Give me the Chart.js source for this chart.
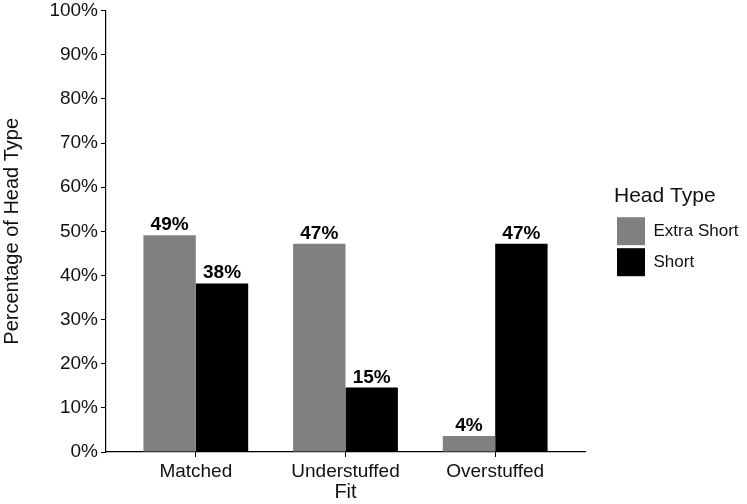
<!DOCTYPE html>
<html>
<head>
<meta charset="utf-8">
<script src="https://cdn.jsdelivr.net/npm/chart.js@4.4.1/dist/chart.umd.min.js"></script>
<style>
  html, body { margin: 0; padding: 0; background: #fff; }
  #wrap { width: 747px; height: 504px; }
</style>
</head>
<body>
<div id="wrap"><canvas id="grafico"></canvas></div>
<script>
// dados
const categorias = ["Matched", "Understuffed", "Overstuffed"];
const extraShort = [49.1, 47.2, 3.6];
const short = [38.2, 14.6, 47.2];
const yTicks = [0, 10, 20, 30, 40, 50, 60, 70, 80, 90, 100];

const fonte = "'Liberation Sans', Arial, sans-serif";
Chart.defaults.font.family = fonte;
Chart.defaults.color = "#111";

// rótulos em cima das barras
const rotulos = {
  id: "rotulos",
  afterInit(chart) {
    // largura fixa da legenda
    const lg = chart.legend;
    if (lg) {
      const fit0 = lg.fit.bind(lg);
      lg.fit = function () { fit0(); this.width = 133; };
    }
  },
  afterDatasetsDraw(chart) {
    const ctx = chart.ctx;
    ctx.save();
    ctx.font = "bold 19px " + fonte;
    ctx.fillStyle = "#000";
    ctx.textAlign = "center";
    ctx.textBaseline = "alphabetic";
    chart.data.datasets.forEach((ds, i) => {
      chart.getDatasetMeta(i).data.forEach((bar, j) => {
        ctx.fillText(Math.round(ds.data[j].y) + "%", bar.x, bar.y - 5);
      });
    });
    ctx.restore();
  }
};

const config = {
  type: "bar",
  data: {
    datasets: [
      {
        label: "Extra Short",
        data: extraShort.map((v, i) => ({ x: i + 1, y: v })),
        backgroundColor: "#808080",
        borderWidth: 0
      },
      {
        label: "Short",
        data: short.map((v, i) => ({ x: i + 1, y: v })),
        backgroundColor: "#000000",
        borderWidth: 0
      }
    ]
  },
  options: {
    responsive: true,
    maintainAspectRatio: false,
    animation: false,
    layout: { padding: { top: 0, right: 0, left: 0, bottom: 0 } },
    datasets: { bar: { categoryPercentage: 0.7, barPercentage: 1.0 } },
    plugins: {
      tooltip: { enabled: false },
      legend: {
        position: "right",
        align: "start",
        title: {
          display: true,
          text: "Head Type",
          position: "start",
          font: { size: 21 },
          color: "#111",
          padding: { top: 186, bottom: 3 }
        },
        labels: {
          boxWidth: 28,
          boxHeight: 28,
          padding: 3,
          font: { size: 17 },
          color: "#111"
        }
      }
    },
    scales: {
      x: {
        type: "linear",
        min: 0.4,
        max: 3.6,
        offset: false,
        afterBuildTicks(scale) {
          scale.ticks = categorias.map((c, i) => ({ value: i + 1 }));
        },
        afterFit(scale) { scale.height = 52; },
        ticks: {
          callback: (v) => categorias[v - 1],
          font: { size: 19 },
          color: "#111",
          padding: 3,
          maxRotation: 0,
          autoSkip: false
        },
        grid: { display: true, offset: false, drawOnChartArea: false, tickLength: 5, color: "#000", lineWidth: 1 },
        border: { display: true, color: "#000", width: 1.2 },
        title: { display: true, text: "Fit", font: { size: 20 }, color: "#111", padding: 0 }
      },
      y: {
        min: 0,
        max: 100,
        afterBuildTicks(scale) {
          scale.ticks = yTicks.map(v => ({ value: v }));
        },
        afterFit(scale) { scale.width = 106; },
        ticks: {
          callback: (v) => v + "%",
          font: { size: 19, lineHeight: 0.8 },
          color: "#111",
          padding: 3
        },
        grid: { display: true, drawOnChartArea: false, tickLength: 5, color: "#000", lineWidth: 1 },
        border: { display: true, color: "#000", width: 1.2 },
        title: { display: true, text: "Percentage of Head Type", font: { size: 20 }, color: "#111", padding: 0 }
      },
      espaco: {
        type: "linear",
        position: "right",
        display: true,
        ticks: { display: false },
        grid: { display: false },
        border: { display: false },
        afterFit(scale) { scale.width = 29; }
      }
    }
  },
  plugins: [rotulos]
};

const meuGrafico = new Chart(document.getElementById("grafico"), config);
</script>
</body>
</html>
